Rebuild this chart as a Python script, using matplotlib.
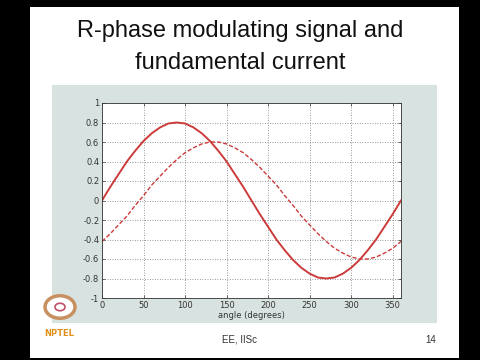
import matplotlib
matplotlib.use("Agg")
from matplotlib import pyplot as plt
from matplotlib.patches import Rectangle, Circle
from matplotlib.ticker import FormatStrFormatter
import numpy as np

# angle samples (degrees) and the two curves
angle = list(range(0, 361, 10))
modulating = [0, 0.14, 0.27, 0.40, 0.51, 0.61, 0.69, 0.75, 0.79, 0.80,
              0.79, 0.75, 0.69, 0.61, 0.51, 0.40, 0.27, 0.14, 0,
              -0.14, -0.27, -0.40, -0.51, -0.61, -0.69, -0.75, -0.79, -0.80,
              -0.79, -0.75, -0.69, -0.61, -0.51, -0.40, -0.27, -0.14, 0]
current = [-0.42, -0.34, -0.25, -0.16, -0.05, 0.05, 0.16, 0.25, 0.34, 0.42,
           0.49, 0.54, 0.58, 0.60, 0.60, 0.58, 0.54, 0.49, 0.42,
           0.34, 0.25, 0.16, 0.05, -0.05, -0.16, -0.25, -0.34, -0.42,
           -0.49, -0.54, -0.58, -0.60, -0.60, -0.58, -0.54, -0.49, -0.42]
xticks = [0, 50, 100, 150, 200, 250, 300, 350]
yticks = [-1, -0.8, -0.6, -0.4, -0.2, 0, 0.2, 0.4, 0.6, 0.8, 1]

red = "#cc3b3b"

fig = plt.figure(figsize=(4.8, 3.6), dpi=100, facecolor="black")

# white slide and grey figure panel
fig.patches.append(Rectangle((30/480, 2/360), 429/480, 351/360, transform=fig.transFigure,
                             facecolor="white", edgecolor="none", zorder=-2))
fig.patches.append(Rectangle((52/480, 37/360), 385/480, 238/360, transform=fig.transFigure,
                             facecolor="#d8e3e1", edgecolor="none", zorder=-1))

fig.text(0.5, 1 - 31/360, "R-phase modulating signal and", ha="center", va="center",
         fontsize=17, family="Liberation Sans", color="#111111")
fig.text(0.5, 1 - 63/360, "fundamental current", ha="center", va="center",
         fontsize=17, family="Liberation Sans", color="#111111")

ax = fig.add_axes([102/480, 1 - 298/360, 299/480, 195/360])
ax.set_zorder(3)
ax.plot(angle, modulating, color=red, lw=1.4)
ax.plot(angle, current, color=red, lw=1.0, ls=(0, (3, 1.5)))
ax.set_xlim(0, 360)
ax.set_ylim(-1, 1)
ax.set_xticks(xticks)
ax.set_yticks(yticks)
ax.yaxis.set_major_formatter(FormatStrFormatter("%g"))
ax.grid(True, color="#777777", ls=(0, (1, 2)), lw=0.6)
ax.tick_params(labelsize=6, length=2, width=0.5, direction="in", pad=2,
               colors="#333333", top=True, right=True)
for s in ax.spines.values():
    s.set_linewidth(0.6)
    s.set_color("#333333")
ax.set_xlabel("angle (degrees)", fontsize=6, color="#333333", labelpad=1)

# footer
fig.text(240/480, 1 - 340/360, "EE, IISc", ha="center", va="center", fontsize=7,
         family="Liberation Sans", color="#333333")
fig.text(431/480, 1 - 340/360, "14", ha="center", va="center", fontsize=7,
         family="Liberation Sans", color="#333333")

# rough NPTEL logo
fig.patches.append(Circle((60/480, 1 - 307/360), 15/480, transform=fig.transFigure,
                          facecolor="white", edgecolor="#c89060", lw=2.5, zorder=1))
fig.patches.append(Circle((60/480, 1 - 307/360), 5/480, transform=fig.transFigure,
                          facecolor="none", edgecolor="#c0506a", lw=1.2, zorder=2))
fig.text(59/480, 1 - 333/360, "NPTEL", ha="center", va="center", fontsize=6,
         fontweight="bold", color="#e0901a")

fig.savefig("out.png", dpi=100, facecolor="black")
